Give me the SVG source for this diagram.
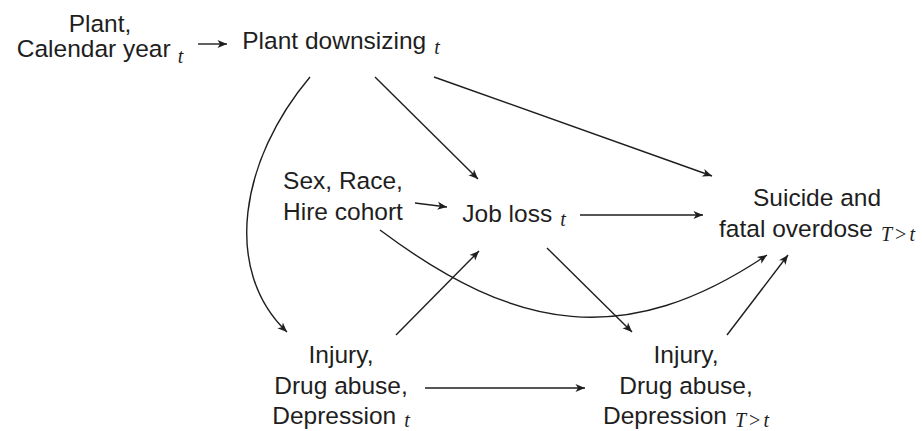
<svg xmlns="http://www.w3.org/2000/svg" width="922" height="431" viewBox="0 0 922 431">
<style>
  .lbl { font-family: "Liberation Sans", Arial, sans-serif; font-size: 24.5px; fill: #1e1e1e; text-anchor: middle; }
  .sub { font-family: "Liberation Serif", "DejaVu Serif", serif; font-style: italic; font-size: 20px; }
  .up { font-style: normal; }
  .edge { fill: none; stroke: #1e1e1e; stroke-width: 1.4; marker-end: url(#arr); }
</style>
<defs>
  <marker id="arr" markerUnits="userSpaceOnUse" markerWidth="12" markerHeight="10" viewBox="-10 -5 12 10" refX="0" refY="0" orient="auto">
    <path d="M0,0 L-9.5,-4 L-7,0 L-9.5,4 Z" fill="#1e1e1e"/>
  </marker>
</defs>
<rect width="922" height="431" fill="#fff"/>

<g id="connectors">
  <line class="edge" x1="198" y1="44" x2="227" y2="44"/>
  <line class="edge" x1="375" y1="77" x2="478" y2="179"/>
  <line class="edge" x1="434" y1="77" x2="712" y2="176"/>
  <path class="edge" d="M310,77 C240,160 222,270 287,332"/>
  <line class="edge" x1="415" y1="203" x2="447" y2="207"/>
  <path class="edge" d="M380,230 C516,332 626,350 767,255"/>
  <line class="edge" x1="580" y1="215" x2="703" y2="215"/>
  <line class="edge" x1="396" y1="335" x2="479" y2="251"/>
  <line class="edge" x1="547" y1="248" x2="632" y2="332"/>
  <line class="edge" x1="425" y1="388" x2="585" y2="388"/>
  <line class="edge" x1="727" y1="335" x2="788" y2="255"/>
</g>

<g id="node-plant-year">
  <text class="lbl" x="100" y="32">Plant,</text>
  <text class="lbl" x="100" y="57">Calendar year<tspan class="sub" dx="7" dy="6">t</tspan></text>
</g>
<g id="node-downsizing">
  <text class="lbl" x="341" y="49">Plant downsizing<tspan class="sub" dx="8" dy="5">t</tspan></text>
</g>
<g id="node-demographics">
  <text class="lbl" x="343" y="189">Sex, Race,</text>
  <text class="lbl" x="343" y="220">Hire cohort</text>
</g>
<g id="node-jobloss">
  <text class="lbl" x="514" y="222">Job loss<tspan class="sub" dx="8" dy="4">t</tspan></text>
</g>
<g id="node-outcome">
  <text class="lbl" x="817" y="206">Suicide and</text>
  <text class="lbl" x="817" y="237">fatal overdose<tspan class="sub" dx="8" dy="4">T<tspan class="up" dx="3">&gt;</tspan><tspan dx="3">t</tspan></tspan></text>
</g>
<g id="node-health-t">
  <text class="lbl" x="341" y="363">Injury,</text>
  <text class="lbl" x="341" y="394">Drug abuse,</text>
  <text class="lbl" x="341" y="424">Depression<tspan class="sub" dx="8" dy="3">t</tspan></text>
</g>
<g id="node-health-later">
  <text class="lbl" x="686" y="363">Injury,</text>
  <text class="lbl" x="686" y="394">Drug abuse,</text>
  <text class="lbl" x="686" y="424">Depression<tspan class="sub" dx="8" dy="3">T<tspan class="up" dx="3">&gt;</tspan><tspan dx="3">t</tspan></tspan></text>
</g>
</svg>
